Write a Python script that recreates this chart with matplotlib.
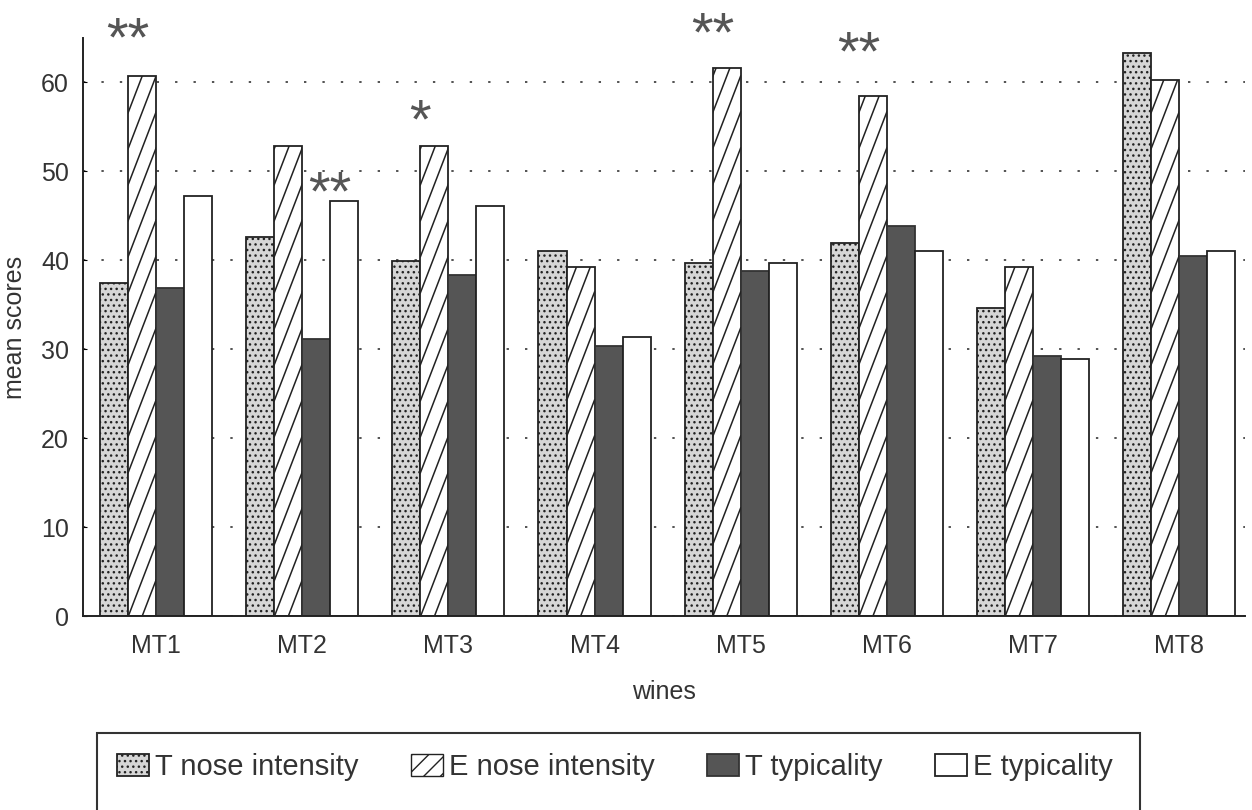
import numpy as np
import matplotlib.pyplot as plt
from matplotlib.patches import Patch, Rectangle

plt.rcParams['font.family'] = ['Liberation Sans', 'DejaVu Sans']
plt.rcParams['hatch.linewidth'] = 1.0

# datos
wines = ['MT1', 'MT2', 'MT3', 'MT4', 'MT5', 'MT6', 'MT7', 'MT8']
t_nose = [37.5, 42.6, 39.9, 41.0, 39.7, 42.0, 34.6, 63.3]
e_nose = [60.7, 52.9, 52.9, 39.3, 61.6, 58.5, 39.2, 60.3]
t_typ = [36.9, 31.2, 38.4, 30.4, 38.8, 43.9, 29.2, 40.5]
e_typ = [47.2, 46.7, 46.1, 31.4, 39.7, 41.1, 28.9, 41.0]
labels = ['T nose intensity', 'E nose intensity', 'T typicality', 'E typicality']

# asteriscos de significancia (vino, par comparado, texto, altura)
sig_wine = [0, 1, 2, 4, 5]
sig_pair = ['nose', 'typ', 'nose', 'nose', 'nose']
sig_text = ['**', '**', '*', '**', '**']
sig_y = [66.5, 49.1, 57.2, 67.0, 64.9]

fig = plt.figure(figsize=(12.52, 8.10), dpi=100)
ax = fig.add_axes([0.0663, 0.2395, 0.928, 0.7136])

x = np.arange(len(wines))
w = 0.1917
off = (np.arange(4) - 1.5) * w

b1 = ax.bar(x + off[0], t_nose, w, facecolor='#d6d6d6', edgecolor='#222222',
            hatch='...', linewidth=1.3)
b2 = ax.bar(x + off[1], e_nose, w, facecolor='white', edgecolor='#222222',
            linewidth=1.3)
b3 = ax.bar(x + off[2], t_typ, w, facecolor='#555555', edgecolor='#333333',
            linewidth=1.3)
b4 = ax.bar(x + off[3], e_typ, w, facecolor='white', edgecolor='#222222',
            linewidth=1.3)

ax.set_xlim(-0.5, 7.45)
ax.set_ylim(0, 65)

# rayado inclinado de las barras E nose
p0 = ax.transData.transform((0, 0))
p1 = ax.transData.transform((1, 1))
sx, sy = p1 - p0
slope = 2.6 * sx / sy
step = 36 / sy
for p in b2.patches:
    x0, w0, h0 = p.get_x(), p.get_width(), p.get_height()
    rise = w0 * slope
    xs, ys = [], []
    for k in np.arange(-rise, h0 + step, step):
        xs += [x0, x0 + w0, np.nan]
        ys += [k, k + rise, np.nan]
    ln, = ax.plot(xs, ys, color='#222222', linewidth=1.1, zorder=2.5)
    ln.set_clip_path(p)

for i, pair, txt, yv in zip(sig_wine, sig_pair, sig_text, sig_y):
    xp = x[i] - w if pair == 'nose' else x[i] + w
    ax.annotate(txt, (xp, yv), xytext=(0, -22), textcoords='offset points',
                ha='center', va='baseline', fontsize=40, color='#555555',
                annotation_clip=False)

ax.set_axisbelow(True)
ax.yaxis.grid(True, linestyle=(0, (1.3, 8.9)), linewidth=1.3, color='#444444')
ax.set_yticks([0, 10, 20, 30, 40, 50, 60])
ax.set_xticks(x)
ax.set_xticklabels(wines)
ax.tick_params(axis='y', direction='in', length=3, pad=10, labelsize=18,
               labelcolor='#333333')
ax.tick_params(axis='x', length=0, pad=13, labelsize=18, labelcolor='#333333')
for s in ['top', 'right']:
    ax.spines[s].set_visible(False)
for s in ['left', 'bottom']:
    ax.spines[s].set_linewidth(1.4)
    ax.spines[s].set_color('#222222')

ax.set_xlabel('wines', fontsize=18, color='#333333', labelpad=16)
ax.set_ylabel('mean scores', fontsize=18, color='#333333', labelpad=10)

handles = [b1, Patch(facecolor='white', edgecolor='#222222', hatch='//'), b3, b4]
fig.legend(handles, labels, loc='center left', bbox_to_anchor=(0.0935, 0.053),
           ncol=4, frameon=False, fontsize=21, handlelength=1.1,
           handleheight=0.8, handletextpad=0.2, columnspacing=1.8,
           borderpad=0, borderaxespad=0, labelcolor='#333333')
fig.patches.append(Rectangle((97 / 1252, -0.1), (1140 - 97) / 1252,
                             0.1 + 1 - 733 / 810, transform=fig.transFigure,
                             fill=False, edgecolor='#333333', linewidth=1.5))

fig.savefig('out.png', dpi=100)
